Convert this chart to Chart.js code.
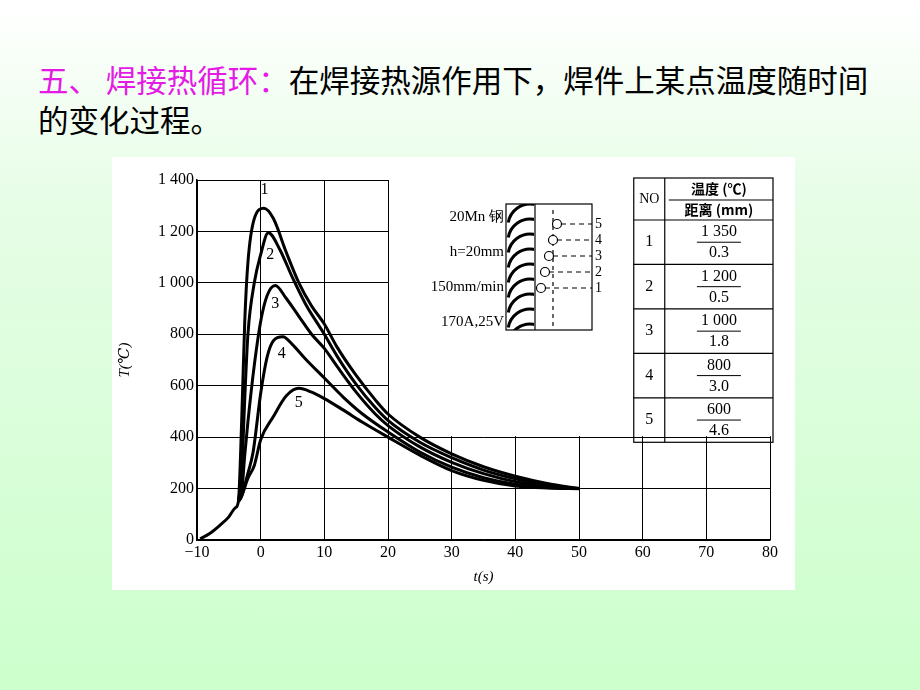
<!DOCTYPE html>
<html><head><meta charset="utf-8">
<script src="https://cdn.jsdelivr.net/npm/chart.js@4"></script>
<style>
  body { margin:0; width:920px; height:690px; overflow:hidden;
         background: linear-gradient(#ffffff 0%, #e6fde6 30%, #ccffcc 100%); position:relative; }
  #title { position:absolute; left:38px; top:59px; font:30.5px "Noto Sans CJK SC"; line-height:40px; color:#000; white-space:nowrap; }
  #title .hl { color:#e41be4; }
  #wrap { position:absolute; left:112px; top:157px; width:683px; height:433px; background:#fff; }
</style></head>
<body>
<div id="title"><span class="hl">五、 焊接热循环：</span>在焊接热源作用下，焊件上某点温度随时间<br>的变化过程。</div>
<div id="wrap"><canvas id="c"></canvas></div>
<script>
// ── Thermal cycle curves (t in s, T in °C) ───────────────────────────────────
const curve1 = [[-9.5,5],[-8,25],[-6.5,55],[-5,90],[-4,125],[-3.5,150],[-3,450],[-2.5,850],[-2,1080],[-1,1250],[0.5,1290],[2,1250],[4,1120],[6,1000],[8,910],[10,840],[12,750],[15,640],[18,545],[20,490],[25,400],[30,335],[35,285],[40,248],[45,220],[50,200]];
const curve2 = [[-3.5,150],[-3,250],[-2.5,550],[-2,800],[-1,1000],[0,1110],[1.2,1195],[3,1130],[5,1020],[7,920],[10,800],[12,715],[15,605],[18,515],[20,465],[25,380],[30,320],[35,272],[40,238],[45,214],[50,200]];
const curve3 = [[-3.5,150],[-3,180],[-2.5,330],[-2,460],[-1,680],[0,850],[1,950],[2.3,990],[4,940],[6,870],[8,800],[10,745],[12,675],[15,575],[18,490],[20,445],[25,362],[30,302],[35,258],[40,227],[45,210],[50,200]];
const curve4 = [[-3.5,150],[-3,170],[-2,260],[-1.2,340],[0,570],[1,710],[2,775],[3.5,790],[5,760],[7,705],[10,630],[13,555],[16,490],[20,420],[25,342],[30,283],[35,242],[40,217],[45,205],[50,200]];
const curve5 = [[-3.5,150],[-3,170],[-2,240],[-1,290],[0,390],[2,480],[4,560],[6,590],[8,575],[10,550],[13,505],[16,458],[20,400],[25,330],[30,270],[35,232],[40,210],[45,202],[50,199]];
const curveLabels = [['1',0.6,1360],['2',1.5,1110],['3',2.3,920],['4',3.3,725],['5',6,535]];
const tableNo   = ['1','2','3','4','5'];
const tableTemp = ['1 350','1 200','1 000','800','600'];
const tableDist = ['0.3','0.5','1.8','3.0','4.6'];
const insetText = ['20Mn 钢','h=20mm','150mm/min','170A,25V'];

const SERIF = '"Liberation Serif", "DejaVu Serif", serif';
const CJK = '"Noto Sans CJK SC"';

const overlay = {
  id: 'overlay',
  beforeDatasetsDraw(chart) {
    const { ctx, scales: { x, y } } = chart;
    // blank the upper-right region (inset + table)
    ctx.save();
    ctx.fillStyle = '#fff';
    ctx.fillRect(x.getPixelForValue(20) + 1, y.getPixelForValue(1400), x.getPixelForValue(80) - x.getPixelForValue(20), y.getPixelForValue(400) - y.getPixelForValue(1400) - 1);
    ctx.restore();
  },
  afterDraw(chart) {
    const { ctx, scales: { x, y } } = chart;
    ctx.save();
    ctx.fillStyle = '#000'; ctx.strokeStyle = '#000';
    // curve numbers
    ctx.font = '16px ' + SERIF; ctx.textAlign = 'center'; ctx.textBaseline = 'middle';
    curveLabels.forEach(([s, vx, vy]) => ctx.fillText(s, x.getPixelForValue(vx), y.getPixelForValue(vy)));

    // table
    const L = x.getPixelForValue(58.6), M = L + 31, R = x.getPixelForValue(80) + 3;
    const T = y.getPixelForValue(1400) - 2, B = y.getPixelForValue(380);
    const hH = 42, rH = (B - T - hH) / 5;
    ctx.lineWidth = 1.2;
    ctx.strokeRect(L, T, R - L, B - T);
    ctx.beginPath();
    ctx.moveTo(M, T); ctx.lineTo(M, B);
    ctx.moveTo(M + 4, T + hH / 2 + 1); ctx.lineTo(R, T + hH / 2 + 1);
    for (let i = 0; i <= 4; i++) { ctx.moveTo(L, T + hH + i * rH); ctx.lineTo(R, T + hH + i * rH); }
    ctx.stroke();
    ctx.font = '14px ' + SERIF;
    ctx.fillText('NO', (L + M) / 2, T + hH / 2);
    const cx = (M + R) / 2;
    ctx.font = 'bold 14px ' + CJK;
    ctx.fillText('温度 (℃)', cx, T + 11);
    ctx.fillText('距离 (mm)', cx, T + 32);
    tableNo.forEach((n, i) => {
      const top = T + hH + i * rH, mid = top + rH / 2;
      ctx.font = '16px ' + SERIF;
      ctx.fillText(n, (L + M) / 2, mid);
      ctx.fillText(tableTemp[i], cx, mid - 10);
      ctx.fillText(tableDist[i], cx, mid + 11);
      ctx.lineWidth = 1;
      ctx.beginPath(); ctx.moveTo(cx - 22, mid); ctx.lineTo(cx + 22, mid); ctx.stroke();
    });

    // inset schematic (canvas px)
    const bx = 394, by = 47, bw = 86, bh = 126;
    ctx.lineWidth = 1.2;
    ctx.strokeRect(bx, by, bw, bh);
    ctx.font = '15px ' + SERIF; ctx.textAlign = 'right';
    insetText.forEach((s, i) => ctx.fillText(s, bx - 2, by + 13 + i * 35));
    ctx.save();
    ctx.beginPath(); ctx.rect(bx, by, 28, bh); ctx.clip();
    ctx.lineWidth = 3;
    for (let i = 0; i < 9; i++) {
      const yy = by + 4 + i * 15;
      ctx.beginPath(); ctx.arc(bx + 24, yy + 18, 22, Math.PI * 1.05, Math.PI * 1.95); ctx.stroke();
    }
    ctx.restore();
    ctx.lineWidth = 1.2;
    ctx.beginPath(); ctx.moveTo(bx + 29, by); ctx.lineTo(bx + 29, by + bh); ctx.stroke();
    ctx.setLineDash([4, 4]);
    ctx.beginPath(); ctx.moveTo(bx + 47, by + 6); ctx.lineTo(bx + 47, by + bh); ctx.stroke();
    ctx.textAlign = 'left'; ctx.font = '14px ' + SERIF;
    for (let i = 0; i < 5; i++) {
      const yy = by + 84 - i * 16, px = bx + 35 + i * 4;
      ctx.setLineDash([5, 4]);
      ctx.beginPath(); ctx.moveTo(px + 4, yy); ctx.lineTo(bx + bw, yy); ctx.stroke();
      ctx.setLineDash([]);
      ctx.beginPath(); ctx.arc(px, yy, 4.5, 0, Math.PI * 2); ctx.fillStyle = '#fff'; ctx.fill(); ctx.stroke();
      ctx.fillStyle = '#000';
      ctx.fillText(String(i + 1), bx + bw + 3, yy);
    }
    ctx.restore();
  }
};

const mk = pts => ({ data: pts.map(([x, y]) => ({ x, y })), borderColor: '#000', borderWidth: 3, pointRadius: 0, cubicInterpolationMode: 'monotone', showLine: true, fill: false });

new Chart(document.getElementById('c'), {
  type: 'scatter',
  data: { datasets: [mk(curve1), mk(curve2), mk(curve3), mk(curve4), mk(curve5)] },
  options: {
    responsive: true, maintainAspectRatio: false, animation: false,
    layout: { padding: { top: 23, right: 25, left: 0, bottom: 0 } },
    plugins: { legend: { display: false }, tooltip: { enabled: false } },
    scales: {
      x: {
        min: -10, max: 80,
        ticks: { stepSize: 10, color: '#000', font: { family: SERIF, size: 16 }, callback: v => v < 0 ? '−' + (-v) : v },
        grid: { color: '#000', lineWidth: 1, drawTicks: false },
        border: { color: '#000', width: 1.5 },
        title: { display: true, text: 't(s)', color: '#000', font: { family: SERIF, size: 15, style: 'italic' } },
        afterFit: s => { s.height = 50; }
      },
      y: {
        min: 0, max: 1400,
        ticks: { stepSize: 200, color: '#000', font: { family: SERIF, size: 16 }, callback: v => v >= 1000 ? String(v).replace(/^(\d)/, '$1 ') : v },
        grid: { color: '#000', lineWidth: 1, drawTicks: false },
        border: { color: '#000', width: 1.5 },
        title: { display: true, text: 'T(℃)', color: '#000', font: { family: SERIF, size: 15, style: 'italic' } },
        afterFit: s => { s.width = 85; }
      }
    }
  },
  plugins: [overlay]
});
</script>
</body></html>
